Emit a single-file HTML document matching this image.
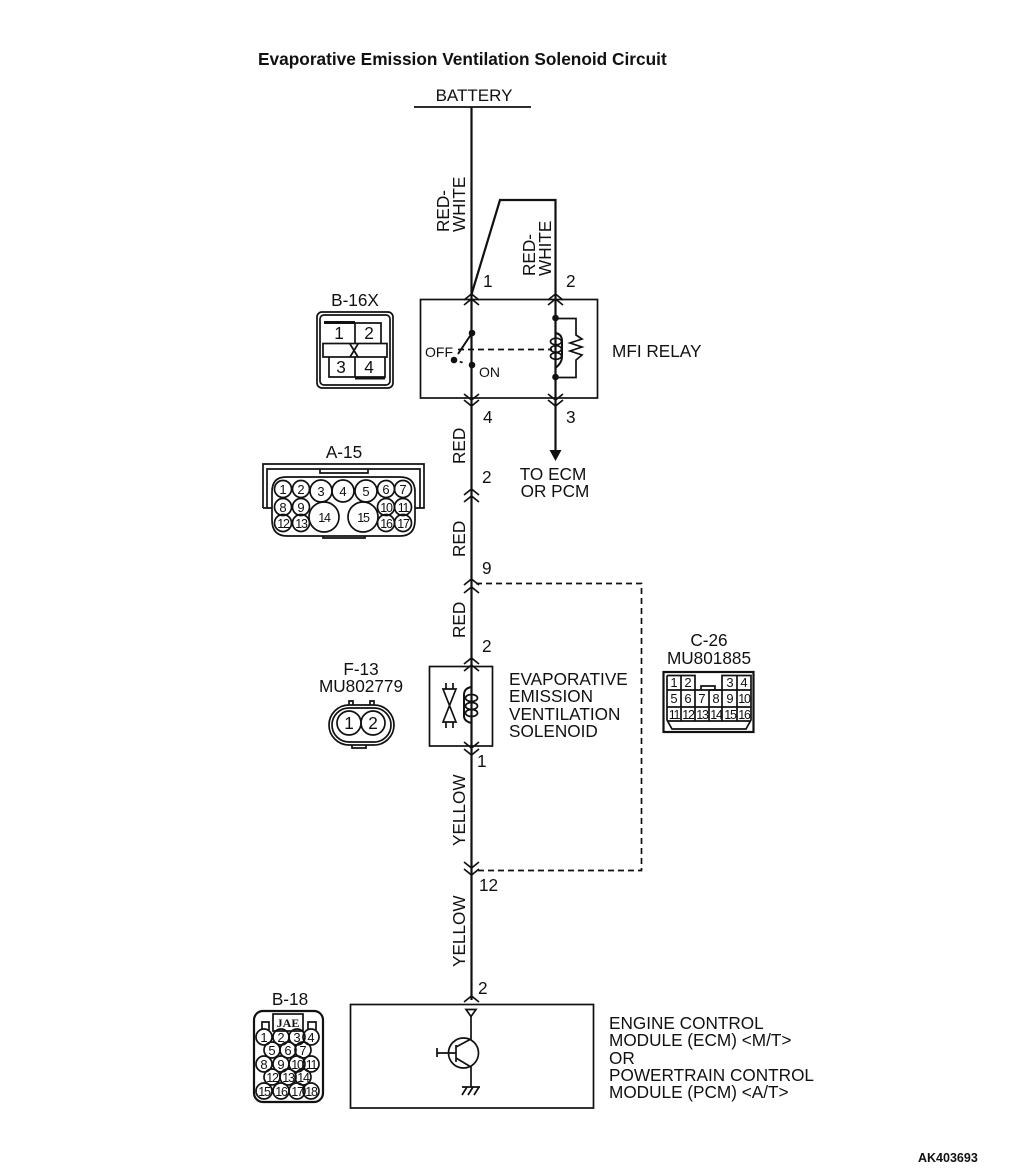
<!DOCTYPE html>
<html><head><meta charset="utf-8"><style>
html,body{margin:0;padding:0;background:#fff}
svg{display:block}
text{font-family:"Liberation Sans",sans-serif;fill:#111;font-size:17.2px}
.s{font-size:13px;text-anchor:middle}
.d{font-size:12.500px;text-anchor:middle;letter-spacing:-1.2px}
.m{text-anchor:middle}
</style></head><body>
<svg width="1010" height="1168" viewBox="0 0 1010 1168" xmlns="http://www.w3.org/2000/svg">
<rect width="1010" height="1168" fill="#fff"/>
<text x="258" y="65" style="font-weight:bold;font-size:17.270px">Evaporative Emission Ventilation Solenoid Circuit</text>
<text x="474" y="101" class="m" style="font-size:17px">BATTERY</text>
<g fill="none" stroke="#111" stroke-width="1.700">
<path d="M414 107H531"/>
<path d="M471.500 107V1000" stroke-width="2.200"/>
<path d="M471 296L500 200H555.500V452" stroke-width="2.200"/>
<rect x="420.500" y="299.500" width="177" height="98.500"/>
<rect x="429.500" y="666.500" width="63" height="79.500"/>
<rect x="350.500" y="1004.500" width="243" height="103.500"/>
<path d="M476 583.500H641.500V870.500H476" stroke-dasharray="6 4"/>
<path d="M458 349.500H552" stroke-dasharray="6 4"/>
<!-- chevrons -->
<path d="M464 300L471.500 294L479 300M464 305L471.500 299L479 305"/>
<path d="M548 300L555.500 294L563 300M548 305L555.500 299L563 305"/>
<path d="M464 394L471.500 400L479 394M464 400L471.500 406L479 400"/>
<path d="M548 394L555.500 400L563 394M548 400L555.500 406L563 400"/>
<path d="M464 495L471.500 489L479 495M464 502L471.500 496L479 502"/>
<path d="M464 585L471.500 579L479 585M464 593L471.500 587L479 593"/>
<path d="M464 664L471.500 658L479 664M464 671L471.500 665L479 671"/>
<path d="M464 742L471.500 748L479 742M464 749L471.500 755L479 749"/>
<path d="M464 862L471.500 868L479 862M464 869L471.500 875L479 869"/>
<path d="M464 1002L471.500 996L479 1002"/>
<!-- switch -->
<path d="M471.500 300V333M472 333L458 354M471.500 366V398" stroke-width="2"/>
<path d="M454 360L464 363" stroke-dasharray="3 3"/>
<!-- coil and resistor -->
<path d="M555.500 300V333C561 334 562 338 562 341V357C562 362 558 366 555.500 368V398" stroke-width="2"/>
<ellipse cx="556" cy="341.500" rx="5.500" ry="3.300"/><ellipse cx="556" cy="349" rx="5.500" ry="3.300"/><ellipse cx="556" cy="356" rx="5.500" ry="3.300"/>
<path d="M555 318.500H576V335L582 339L570 343L582 347L570 351L582 355L576 360V377.500H555"/>
<!-- solenoid -->
<path d="M471.500 667V687C465 688 464 692 464 695V716C464 720 467 722 471.500 723V746" stroke-width="2"/>
<ellipse cx="471.500" cy="698" rx="6" ry="3.500"/><ellipse cx="471.500" cy="706" rx="6" ry="3.500"/><ellipse cx="471.500" cy="713" rx="6" ry="3.500"/>
<path d="M443 689H456L443 722H456ZM446 683V689M453 683V689M446 722V728M453 722V728"/>
<!-- transistor -->
<circle cx="463.500" cy="1053" r="15"/>
<path d="M471 1016V1039L456 1047M456 1045V1062M456 1058L471 1067V1087M437 1053H456M437 1048V1057"/>
<path d="M466 1009.500H476L471 1016.500Z"/>
<path d="M462 1087H480M462 1095L467 1087M468 1095L473 1087M474 1095L479 1087"/>
<!-- B-16X -->
<rect x="317" y="312" width="76" height="76" rx="5"/>
<rect x="320" y="315" width="70" height="70" rx="4"/>
<path d="M324 323H355V343M355 323H381V343M329 357V377H355V357M355 357V377H385V357"/>
<rect x="323" y="343.500" width="64" height="13.500"/>
<path d="M350 344L358 357M358 344L350 357"/>
<path d="M324 322.500H355M355 378H385" stroke-width="3"/>
<!-- A-15 -->
<path d="M263 508V464H424V508H415M272 508H263M267 508V469H420V508"/>
<path d="M320 469V473H368V469"/>
<path d="M286 477H400Q415 477 415 492V520Q415 536 400 536H287Q272 536 272 520V492Q272 477 286 477Z"/>
<path d="M323 536V538H365V536"/>
<circle cx="283" cy="489" r="8.500"/><circle cx="301" cy="489" r="8.500"/><circle cx="321" cy="491" r="11"/><circle cx="343" cy="491" r="11"/><circle cx="366" cy="491" r="11"/><circle cx="386" cy="489" r="8.500"/><circle cx="403" cy="489" r="8.500"/>
<circle cx="283" cy="507" r="8.500"/><circle cx="301" cy="507" r="8.500"/><circle cx="386" cy="507" r="8.500"/><circle cx="403" cy="507" r="8.500"/>
<circle cx="283" cy="523" r="8.500"/><circle cx="301" cy="523" r="8.500"/><circle cx="386" cy="523" r="8.500"/><circle cx="403" cy="523" r="8.500"/>
<circle cx="324" cy="517" r="15"/><circle cx="363" cy="517" r="15"/>
<!-- F-13 -->
<rect x="329" y="705" width="65" height="40" rx="20"/>
<rect x="332" y="708" width="59" height="34" rx="17"/>
<circle cx="349" cy="723" r="12"/><circle cx="373" cy="723" r="12"/>
<path d="M349 705V701H353V705M370 705V701H374V705M352 745V748H366V745"/>
<!-- C-26 -->
<rect x="663.500" y="672" width="90" height="60" stroke-width="2.200"/>
<path d="M667 675.500H695V690M709 690H751V675.500H722V690M681 675.500V690M737 675.500V690M667 675.500V720L672 729H746L751 720V675.500"/>
<path d="M667 690H695M667 707H751M667 721H751M695 690H722M701 690V686H715V690"/>
<path d="M681 690V721M695 690V721M709 690V721M722 690V721M737 690V721"/>
<!-- B-18 -->
<rect x="254" y="1011" width="69" height="91" rx="9" stroke-width="2.200"/>
<rect x="273" y="1014" width="30" height="17"/>
<path d="M262 1030V1022H269V1030M308 1030V1022H316V1030"/>
<circle cx="264" cy="1037" r="8"/><circle cx="281" cy="1037" r="8"/><circle cx="297" cy="1037" r="8"/><circle cx="311" cy="1037" r="8"/>
<circle cx="272" cy="1050" r="8"/><circle cx="288" cy="1050" r="8"/><circle cx="303" cy="1050" r="8"/>
<circle cx="264" cy="1064" r="8"/><circle cx="281" cy="1064" r="8"/><circle cx="297" cy="1064" r="8"/><circle cx="311" cy="1064" r="8"/>
<circle cx="272" cy="1077" r="8"/><circle cx="288" cy="1077" r="8"/><circle cx="303" cy="1077" r="8"/>
<circle cx="264" cy="1091" r="8"/><circle cx="281" cy="1091" r="8"/><circle cx="297" cy="1091" r="8"/><circle cx="311" cy="1091" r="8"/>
</g>
<g fill="#111">
<circle cx="472" cy="333" r="3.300"/><circle cx="454" cy="360" r="3.300"/><circle cx="472" cy="365" r="3.300"/>
<circle cx="555.500" cy="318" r="3.300"/><circle cx="555.500" cy="377" r="3.300"/>
<path d="M549.500 450H561.500L555.500 461Z"/>
</g>
<!-- vertical wire labels -->
<text transform="translate(449,232) rotate(-90)">RED-</text>
<text transform="translate(465,232) rotate(-90)">WHITE</text>
<text transform="translate(535,276) rotate(-90)">RED-</text>
<text transform="translate(551,276) rotate(-90)">WHITE</text>
<text transform="translate(465,464) rotate(-90)">RED</text>
<text transform="translate(465,557) rotate(-90)">RED</text>
<text transform="translate(465,638) rotate(-90)">RED</text>
<text transform="translate(465,846) rotate(-90)">YELLOW</text>
<text transform="translate(465,967) rotate(-90)">YELLOW</text>
<!-- pin numbers -->
<text x="483" y="287">1</text><text x="566" y="287">2</text>
<text x="483" y="423">4</text><text x="566" y="423">3</text>
<text x="482" y="483">2</text><text x="482" y="574">9</text>
<text x="482" y="652">2</text><text x="477" y="767">1</text>
<text x="479" y="891">12</text><text x="478" y="994">2</text>
<!-- labels -->
<text x="612" y="357">MFI RELAY</text>
<text x="425" y="357" style="font-size:14px">OFF</text>
<text x="479" y="377" style="font-size:14px">ON</text>
<text x="553" y="480" class="m">TO ECM</text>
<text x="555" y="497" class="m">OR PCM</text>
<text x="509" y="685">EVAPORATIVE</text>
<text x="509" y="702">EMISSION</text>
<text x="509" y="720">VENTILATION</text>
<text x="509" y="737">SOLENOID</text>
<text x="609" y="1029">ENGINE CONTROL</text>
<text x="609" y="1046">MODULE (ECM) &lt;M/T&gt;</text>
<text x="609" y="1064">OR</text>
<text x="609" y="1081">POWERTRAIN CONTROL</text>
<text x="609" y="1098">MODULE (PCM) &lt;A/T&gt;</text>
<text x="355" y="306" class="m">B-16X</text>
<text x="344" y="458" class="m">A-15</text>
<text x="361" y="675" class="m">F-13</text>
<text x="361" y="692" class="m">MU802779</text>
<text x="709" y="646" class="m">C-26</text>
<text x="709" y="664" class="m">MU801885</text>
<text x="290" y="1005" class="m">B-18</text>
<text x="918" y="1162" style="font-weight:bold;font-size:12.500px">AK403693</text>
<!-- B-16X and F-13 pins -->
<text class="m" x="339" y="339">1</text><text class="m" x="369" y="339">2</text><text class="m" x="341" y="373">3</text><text class="m" x="369" y="373">4</text>
<text class="m" x="349" y="729">1</text><text class="m" x="373" y="729">2</text>
<!-- A-15 pins -->
<text class="s" x="283" y="494">1</text><text class="s" x="301" y="494">2</text><text class="s" x="321" y="496">3</text><text class="s" x="343" y="496">4</text><text class="s" x="366" y="496">5</text><text class="s" x="386" y="494">6</text><text class="s" x="403" y="494">7</text>
<text class="s" x="283" y="512">8</text><text class="s" x="301" y="512">9</text><text class="d" x="386" y="512">10</text><text class="d" x="403" y="512">11</text>
<text class="d" x="283" y="528">12</text><text class="d" x="301" y="528">13</text><text class="d" x="386" y="528">16</text><text class="d" x="403" y="528">17</text>
<text class="d" x="324" y="522">14</text><text class="d" x="363" y="522">15</text>
<!-- C-26 pins -->
<text class="s" x="674" y="687">1</text><text class="s" x="688" y="687">2</text><text class="s" x="730" y="687">3</text><text class="s" x="744" y="687">4</text>
<text class="s" x="674" y="703">5</text><text class="s" x="688" y="703">6</text><text class="s" x="702" y="703">7</text><text class="s" x="716" y="703">8</text><text class="s" x="730" y="703">9</text><text class="d" x="744" y="703">10</text>
<text class="d" x="674" y="719">11</text><text class="d" x="688" y="719">12</text><text class="d" x="702" y="719">13</text><text class="d" x="716" y="719">14</text><text class="d" x="730" y="719">15</text><text class="d" x="744" y="719">16</text>
<!-- B-18 pins -->
<text class="s" x="288" y="1027" style="font-family:'Liberation Serif',serif;font-size:12px;font-weight:bold">JAE</text>
<text class="s" x="264" y="1042">1</text><text class="s" x="281" y="1042">2</text><text class="s" x="297" y="1042">3</text><text class="s" x="311" y="1042">4</text>
<text class="s" x="272" y="1055">5</text><text class="s" x="288" y="1055">6</text><text class="s" x="303" y="1055">7</text>
<text class="s" x="264" y="1069">8</text><text class="s" x="281" y="1069">9</text><text class="d" x="297" y="1069">10</text><text class="d" x="311" y="1069">11</text>
<text class="d" x="272" y="1082">12</text><text class="d" x="288" y="1082">13</text><text class="d" x="303" y="1082">14</text>
<text class="d" x="264" y="1096">15</text><text class="d" x="281" y="1096">16</text><text class="d" x="297" y="1096">17</text><text class="d" x="311" y="1096">18</text>
</svg>
</body></html>
